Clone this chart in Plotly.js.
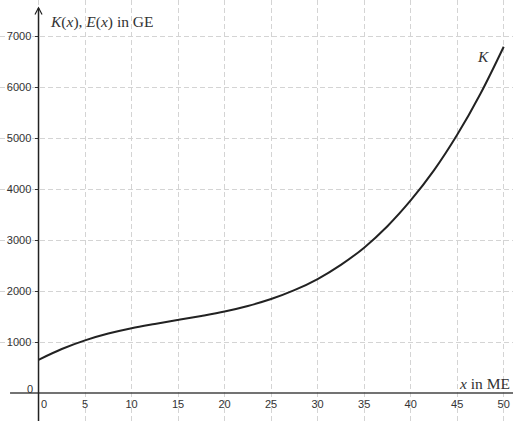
<!DOCTYPE html>
<html>
<head>
<meta charset="utf-8">
<script src="https://cdn.plot.ly/plotly-3.0.1.min.js"></script>
<style>html,body{margin:0;padding:0;background:#fff;}#chart{width:513px;height:421px;}</style>
</head>
<body>
<div id="chart"></div>
<script>
// x values (ME) and cost K(x) (GE)
var xValues = [0, 2.5, 5, 7.5, 10, 12.5, 15, 17.5, 20, 22.5, 25, 27.5, 30, 32.5, 35, 37.5, 40, 42.5, 45, 47.5, 50];
var kValues = [650, 862, 1032, 1165, 1270, 1354, 1432, 1511, 1598, 1707, 1842, 2016, 2235, 2513, 2850, 3270, 3775, 4364, 5062, 5868, 6790];
var xTicks = [0, 5, 10, 15, 20, 25, 30, 35, 40, 45, 50];
var xTickText = ['', '5', '10', '15', '20', '25', '30', '35', '40', '45', '50'];
var yTicks = [1000, 2000, 3000, 4000, 5000, 6000, 7000];

var xRange = [-4.14, 51.0];
var yRange = [-549, 7706];
var xPos = (0 - yRange[0]) / (yRange[1] - yRange[0]);
var yPos = (0 - xRange[0]) / (xRange[1] - xRange[0]);

var trace = {
  x: xValues, y: kValues, mode: 'lines', type: 'scatter',
  line: {color: '#222222', width: 2, shape: 'spline', smoothing: 1},
  hoverinfo: 'skip', showlegend: false
};

var tickFont = {family: 'Liberation Sans, Arial, sans-serif', size: 11, color: '#333333'};
var serif = 'Liberation Serif, DejaVu Serif, serif';

var layout = {
  width: 513, height: 421, autosize: false,
  margin: {l: 0, r: 0, t: 0, b: 0, pad: 0},
  paper_bgcolor: '#ffffff', plot_bgcolor: '#ffffff',
  xaxis: {
    range: xRange, tickvals: xTicks, ticktext: xTickText,
    anchor: 'free', position: xPos, side: 'bottom',
    showline: false, zeroline: false, ticks: '', ticklabelstandoff: 3,
    showgrid: true, gridcolor: '#d4d4d4', gridwidth: 1, griddash: '5px,3px',
    tickfont: tickFont, fixedrange: true
  },
  yaxis: {
    range: yRange, tickvals: yTicks, ticktext: yTicks.map(String),
    anchor: 'free', position: yPos, side: 'left',
    showline: false, zeroline: false, ticks: 'outside', ticklen: 4, tickcolor: '#333333', tickwidth: 1,
    ticklabelstandoff: 1,
    showgrid: true, gridcolor: '#d4d4d4', gridwidth: 1, griddash: '5px,3px',
    tickfont: tickFont, fixedrange: true
  },
  shapes: [
    {type: 'line', xref: 'x', yref: 'y', x0: -3.06, x1: 51.0, y0: 0, y1: 0, line: {color: '#444444', width: 1.5}},
    {type: 'line', xref: 'x', yref: 'y', x0: 0, x1: 0, y0: yRange[0], y1: 7550, line: {color: '#222222', width: 1.5}},
    {type: 'path', xref: 'x', yref: 'y', path: 'M -0.38,7420 L 0,7555 L 0.38,7420', line: {color: '#222222', width: 1.2}}
  ],
  annotations: [
    {xref: 'x', yref: 'y', x: 1.0, y: 7280, xanchor: 'left', yanchor: 'middle', showarrow: false,
     text: '<i>K</i>(<i>x</i>), <i>E</i>(<i>x</i>) in GE', font: {family: serif, size: 15.5, color: '#333333'}},
    {xref: 'x', yref: 'y', x: 50.9, y: 196, xanchor: 'right', yanchor: 'middle', showarrow: false,
     text: '<i>x</i> in ME', font: {family: serif, size: 15.5, color: '#333333'}},
    {xref: 'x', yref: 'y', x: 47.8, y: 6590, xanchor: 'center', yanchor: 'middle', showarrow: false,
     text: '<i>K</i>', font: {family: serif, size: 15.5, color: '#333333'}},
    {xref: 'x', yref: 'y', x: -0.9, y: 80, xanchor: 'center', yanchor: 'middle', showarrow: false,
     text: '0', font: tickFont},
    {xref: 'x', yref: 'y', x: 0.6, y: -215, xanchor: 'center', yanchor: 'middle', showarrow: false,
     text: '0', font: tickFont}
  ]
};

Plotly.newPlot('chart', [trace], layout, {displayModeBar: false, staticPlot: true});
</script>
</body>
</html>
